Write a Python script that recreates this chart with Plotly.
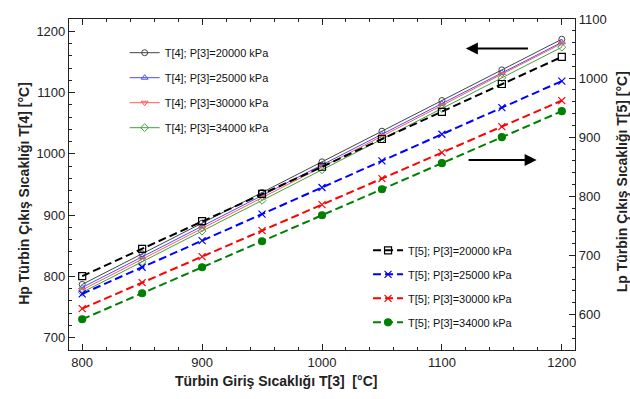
import plotly.graph_objects as go

t3 = [800, 850, 900, 950, 1000, 1050, 1100, 1150, 1200]

# Hp turbine outlet T[4] (left axis)
t4_20000 = [787, 837, 887, 937, 987, 1037, 1087, 1137, 1187]
t4_25000 = [782, 832, 882, 932, 982, 1032, 1082, 1132, 1182]
t4_30000 = [778, 828, 878, 929, 979, 1029, 1079, 1130, 1180]
t4_34000 = [774, 824, 874, 924, 974, 1024, 1074, 1124, 1174]

# Lp turbine outlet T[5] (right axis)
t5_20000 = [665, 711, 758, 804, 850, 897, 943, 990, 1036]
t5_25000 = [635, 680, 725, 770, 815, 860, 905, 950, 995]
t5_30000 = [610, 654, 698, 742, 786, 830, 874, 918, 962]
t5_34000 = [592, 636, 680, 724, 768, 812, 856, 900, 944]

t4_names = ["T[4]; P[3]=20000 kPa", "T[4]; P[3]=25000 kPa",
            "T[4]; P[3]=30000 kPa", "T[4]; P[3]=34000 kPa"]
t5_names = ["T[5]; P[3]=20000 kPa", "T[5]; P[3]=25000 kPa",
            "T[5]; P[3]=30000 kPa", "T[5]; P[3]=34000 kPa"]

FONT = "Liberation Sans, Arial, sans-serif"
fig = go.Figure()

t4_series = [t4_20000, t4_25000, t4_30000, t4_34000]
t4_colors = ["#444444", "#4a4aff", "#ff5a5a", "#3fa33f"]
t4_symbols = ["circle-open", "triangle-up-open", "triangle-down-open", "diamond-open"]
for i, (vals, c, s, n) in enumerate(zip(t4_series, t4_colors, t4_symbols, t4_names)):
    fig.add_trace(go.Scatter(
        x=t3, y=vals, name=n, mode="lines+markers",
        line=dict(color=c, width=1),
        marker=dict(symbol=s, size=6, color=c, line=dict(width=1, color=c)),
        legend="legend", legendgroup="a%d" % i, yaxis="y"))

t5_series = [t5_20000, t5_25000, t5_30000, t5_34000]
t5_colors = ["#000000", "#0000ff", "#ff0000", "#008000"]
t5_symbols = ["square-open", "x-thin-open", "x-thin-open", "circle"]
for i, (vals, c, s, n) in enumerate(zip(t5_series, t5_colors, t5_symbols, t5_names)):
    fig.add_trace(go.Scatter(
        x=t3, y=vals, name=n, mode="lines+markers",
        line=dict(color=c, width=2, dash="8px,4px"),
        marker=dict(symbol=s, size=7, color=c, line=dict(width=1.2, color=c)),
        legend="legend2", legendgroup="b%d" % i, yaxis="y2"))

axis_common = dict(showline=True, linecolor="#222", linewidth=1.2,
                   ticks="inside", ticklen=6, tickcolor="#222",
                   tickfont=dict(family=FONT, size=13, color="#222"),
                   showgrid=False, zeroline=False)

fig.update_layout(
    width=630, height=399,
    margin=dict(l=69, r=55, t=15, b=49),
    paper_bgcolor="white", plot_bgcolor="white",
    showlegend=True,
    xaxis=dict(range=[789, 1211], dtick=100, tick0=800, mirror="ticks",
               minor=dict(dtick=20, tick0=800, ticks="inside", ticklen=3, tickcolor="#222"),
               **axis_common),
    yaxis=dict(range=[680, 1220], dtick=100, tick0=700,
               minor=dict(dtick=20, tick0=700, ticks="inside", ticklen=3, tickcolor="#222"),
               **axis_common),
    yaxis2=dict(range=[540, 1100], dtick=100, tick0=600, overlaying="y", side="right",
                minor=dict(dtick=20, tick0=600, ticks="inside", ticklen=3, tickcolor="#222"),
                **axis_common),
    legend=dict(x=0.11, y=0.942, xanchor="left", yanchor="top",
                bgcolor="rgba(0,0,0,0)", tracegroupgap=6,
                font=dict(family=FONT, size=11, color="#111")),
    legend2=dict(x=0.591, y=0.345, xanchor="left", yanchor="top",
                 bgcolor="rgba(0,0,0,0)", tracegroupgap=5,
                 font=dict(family=FONT, size=11, color="#111")),
    annotations=[
        dict(text="<b>Türbin Giriş Sıcaklığı T[3]  [°C]</b>", xref="paper", yref="paper",
             x=0.41, y=-0.0925, xanchor="center", yanchor="middle", showarrow=False,
             font=dict(family=FONT, size=14, color="#222")),
        dict(text="<b>Hp Türbin Çıkış Sıcaklığı T[4] [°C]</b>", xref="paper", yref="paper",
             x=-0.089, y=0.475, xanchor="center", yanchor="middle", textangle=-90,
             showarrow=False, font=dict(family=FONT, size=14, color="#222")),
        dict(text="<b>Lp Türbin Çıkış Sıcaklığı T[5] [°C]</b>", xref="paper", yref="paper",
             x=1.093, y=0.507, xanchor="center", yanchor="middle", textangle=-90,
             showarrow=False, font=dict(family=FONT, size=14, color="#222")),
        dict(x=1120, y=1172, ax=1173, ay=1172, xref="x", yref="y", axref="x", ayref="y",
             text="", showarrow=True, arrowhead=2, arrowsize=1.2, arrowwidth=2, arrowcolor="#000"),
        dict(x=1179, y=990, ax=1121, ay=990, xref="x", yref="y", axref="x", ayref="y",
             text="", showarrow=True, arrowhead=2, arrowsize=1.2, arrowwidth=2, arrowcolor="#000"),
    ],
)

fig.write_html("out.html", config={"displayModeBar": False},
               post_script="document.body.style.margin='0px';")
